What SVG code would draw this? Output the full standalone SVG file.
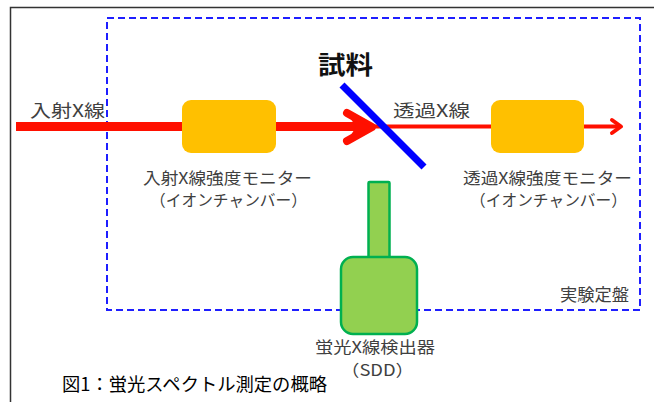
<svg xmlns="http://www.w3.org/2000/svg" width="654" height="402" viewBox="0 0 654 402">
<style>
.lbl{font-family:"Noto Sans CJK JP","Noto Sans",sans-serif;fill:#404040;font-size:17px}
.sm{font-size:16px}
.cap{font-family:"Noto Sans CJK JP","Noto Sans",sans-serif;fill:#000;font-size:18px}
.mon{fill:#FFC000}
.det{fill:#92D050;stroke:#00B050;stroke-width:2.5}
</style>
<rect x="0" y="0" width="654" height="402" fill="#fff"/>
<rect id="frame" x="10.5" y="7.5" width="660" height="420" fill="none" stroke="#333" stroke-width="1.5"/>
<g id="table">
<rect x="107" y="18" width="533" height="292" fill="none" stroke="#1F1FFF" stroke-width="2" stroke-dasharray="7 4"/>
<text class="lbl" x="629" y="301" textLength="69" text-anchor="end" lengthAdjust="spacingAndGlyphs">実験定盤</text>
</g>
<g id="connectors" stroke="#FF1000" fill="none">
<line x1="16" y1="126.5" x2="360" y2="126.5" stroke-width="9"/>
<path d="M347 113 L372 127 L347 141" stroke-width="8" stroke-linecap="round" stroke-linejoin="round"/>
<polygon points="349,116 370,127 349,138 356,127" fill="#FF1000" stroke="none"/>
<line x1="372" y1="126.5" x2="618" y2="126.5" stroke-width="4"/>
<path d="M612 120 L621 126.5 L612 133" stroke-width="4" stroke-linecap="round" stroke-linejoin="round"/>
</g>
<g id="incident-monitor">
<rect class="mon" x="182" y="100" width="94" height="53" rx="9"/>
<text class="lbl sm" x="143" y="184" textLength="169" lengthAdjust="spacingAndGlyphs">入射X線強度モニター</text>
<text class="lbl sm" x="150" y="205.5" textLength="157" lengthAdjust="spacingAndGlyphs">（イオンチャンバー）</text>
</g>
<g id="transmitted-monitor">
<rect class="mon" x="491" y="100" width="93" height="53" rx="9"/>
<text class="lbl sm" x="463" y="184" textLength="169" lengthAdjust="spacingAndGlyphs">透過X線強度モニター</text>
<text class="lbl sm" x="470" y="205.5" textLength="157" lengthAdjust="spacingAndGlyphs">（イオンチャンバー）</text>
</g>
<g id="incident-label">
<text class="lbl" x="30" y="117" font-size="18" textLength="75" lengthAdjust="spacingAndGlyphs">入射X線</text>
</g>
<g id="transmitted-label">
<text class="lbl" x="393" y="117" font-size="18" textLength="77" lengthAdjust="spacingAndGlyphs">透過X線</text>
</g>
<g id="sample">
<line x1="342" y1="85" x2="424" y2="167" stroke="#0000FF" stroke-width="7"/>
<text x="318" y="74" font-family="Noto Sans CJK JP,Noto Sans,sans-serif" font-weight="bold" font-size="25" fill="#111" textLength="55" lengthAdjust="spacingAndGlyphs">試料</text>
</g>
<g id="detector">
<rect class="det" x="368.5" y="182" width="21" height="76" rx="1"/>
<rect class="det" x="341" y="257" width="76" height="77" rx="12"/>
<text class="lbl sm" x="315" y="353" textLength="120" lengthAdjust="spacingAndGlyphs">蛍光X線検出器</text>
<text class="lbl sm" x="341" y="375.5" textLength="73" lengthAdjust="spacingAndGlyphs">（SDD）</text>
</g>
<g id="caption">
<text class="cap" x="62" y="391" textLength="265" lengthAdjust="spacingAndGlyphs">図1：蛍光スペクトル測定の概略</text>
</g>
</svg>
